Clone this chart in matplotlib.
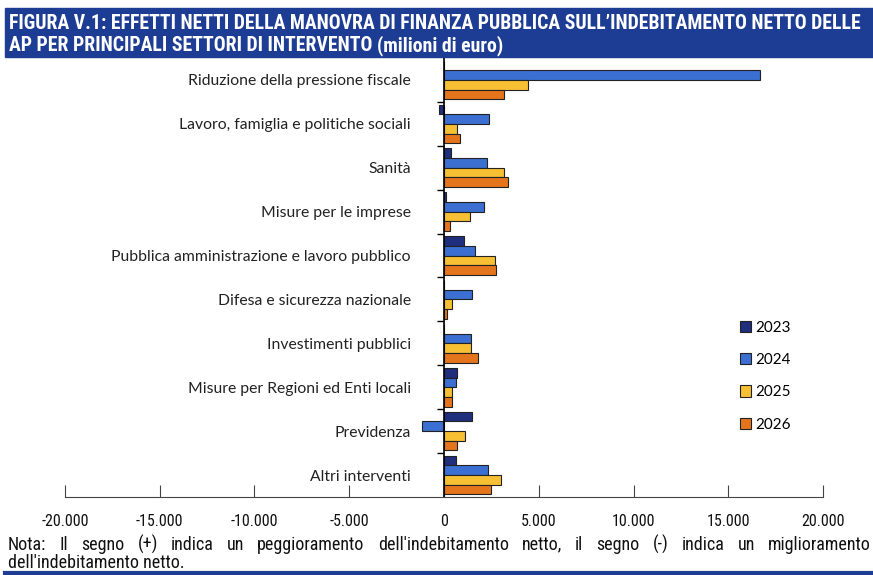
import matplotlib
matplotlib.use("Agg")
import matplotlib.pyplot as plt
import numpy as np
from matplotlib.ticker import FuncFormatter, FixedLocator
from matplotlib.patches import Rectangle

# categories and values (milioni di euro)
categories = [
    "Riduzione della pressione fiscale",
    "Lavoro, famiglia e politiche sociali",
    "Sanità",
    "Misure per le imprese",
    "Pubblica amministrazione e lavoro pubblico",
    "Difesa e sicurezza nazionale",
    "Investimenti pubblici",
    "Misure per Regioni ed Enti locali",
    "Previdenza",
    "Altri interventi",
]
years = ["2023", "2024", "2025", "2026"]
v2023 = [0, -250, 370, 80, 1070, 0, 0, 690, 1500, 620]
v2024 = [16700, 2360, 2250, 2130, 1650, 1480, 1410, 620, -1150, 2300]
v2025 = [4430, 670, 3180, 1360, 2700, 440, 1410, 420, 1130, 3000]
v2026 = [3170, 840, 3400, 320, 2720, 140, 1780, 440, 670, 2460]
colors = ["#1f2e7d", "#3b6fd1", "#f7c034", "#e5751c"]
xticks = [-20000, -15000, -10000, -5000, 0, 5000, 10000, 15000, 20000]

narrow = "Roboto Condensed"
labfont = "Lato"
blue = "#1d3c93"

fig = plt.figure(figsize=(8.73, 5.75), dpi=100)
ax = fig.add_axes([65 / 873, 1 - 497 / 575, 758 / 873, 439 / 575])

series = [v2023, v2024, v2025, v2026]
n = len(categories)
h = 0.22
y = np.arange(n)
for i, (vals, col, yr) in enumerate(zip(series, colors, years)):
    pos = y + (i - 1.5) * h
    ax.barh(pos, vals, height=h, color=col, edgecolor="#222222",
            linewidth=0.8, label=yr)

ax.set_xlim(-20000, 20000)
ax.set_ylim(n - 0.5, -0.5)

# y axis sits on zero
ax.spines["left"].set_position(("data", 0))
ax.spines["left"].set_linewidth(1.2)
ax.spines["top"].set_visible(False)
ax.spines["right"].set_visible(False)
ax.spines["bottom"].set_color("#444444")

ax.set_yticks(y)
ax.set_yticklabels(categories, fontsize=11.3, family=labfont, color="#222222")
ax.tick_params(axis="y", which="major", length=0, pad=24)
ax.yaxis.set_minor_locator(FixedLocator(np.arange(0.5, n - 0.5, 1)))
ax.tick_params(axis="y", which="minor", length=5, direction="out", width=1)

ax.set_xticks(xticks)
ax.xaxis.set_major_formatter(FuncFormatter(lambda v, p: f"{int(v):,}".replace(",", ".")))
ax.tick_params(axis="x", direction="in", length=9, pad=12, color="#444444")
for t in ax.get_xticklabels():
    t.set_fontfamily(narrow)
    t.set_fontsize(11.5)
    t.set_color("#111111")

ax.legend(loc="upper left", bbox_to_anchor=(726 / 873, 1 - 307 / 575),
          bbox_transform=fig.transFigure, frameon=False,
          handlelength=0.75, handleheight=0.75, handletextpad=0.3,
          labelspacing=1.2, prop={"family": labfont, "size": 11})

# title band
fig.patches.append(Rectangle((5 / 873, 1 - 57 / 575), 868 / 873, 49 / 575,
                             transform=fig.transFigure, color=blue, zorder=0))
tkw = dict(color="white", fontsize=14.2, fontweight="bold", family=narrow, va="baseline")
fig.text(9 / 873, 1 - 29 / 575,
         "FIGURA V.1: EFFETTI NETTI DELLA MANOVRA DI FINANZA PUBBLICA SULL\u2019INDEBITAMENTO NETTO DELLE",
         **tkw)
t2 = fig.text(9 / 873, 1 - 51 / 575, "AP PER PRINCIPALI SETTORI DI INTERVENTO ", **tkw)
fig.canvas.draw()
r = fig.canvas.get_renderer()
bb = t2.get_window_extent(r)
fig.text(bb.x1 / fig.bbox.width, 1 - 51 / 575, "(milioni di euro)", **tkw)

# note, justified on the first line
line1 = ("Nota: Il segno (+) indica un peggioramento dell'indebitamento netto, "
         "il segno (-) indica un miglioramento").split()
x0, x1 = 8, 871
nkw = dict(fontsize=13, family=narrow, color="#111111", va="baseline")
ws = []
for w in line1:
    t = fig.text(0, 0, w, **nkw)
    ws.append(t.get_window_extent(r).width)
    t.remove()
gap = (x1 - x0 - sum(ws)) / (len(line1) - 1)
x = x0
for w, wd in zip(line1, ws):
    fig.text(x / 873, 1 - 550 / 575, w, **nkw)
    x += wd + gap
fig.text(x0 / 873, 1 - 568 / 575, "dell'indebitamento netto.", **nkw)

fig.add_artist(plt.Line2D([5 / 873, 1], [1 - 573 / 575] * 2,
                          transform=fig.transFigure, color=blue, lw=3))

fig.savefig("out.png", dpi=100)
